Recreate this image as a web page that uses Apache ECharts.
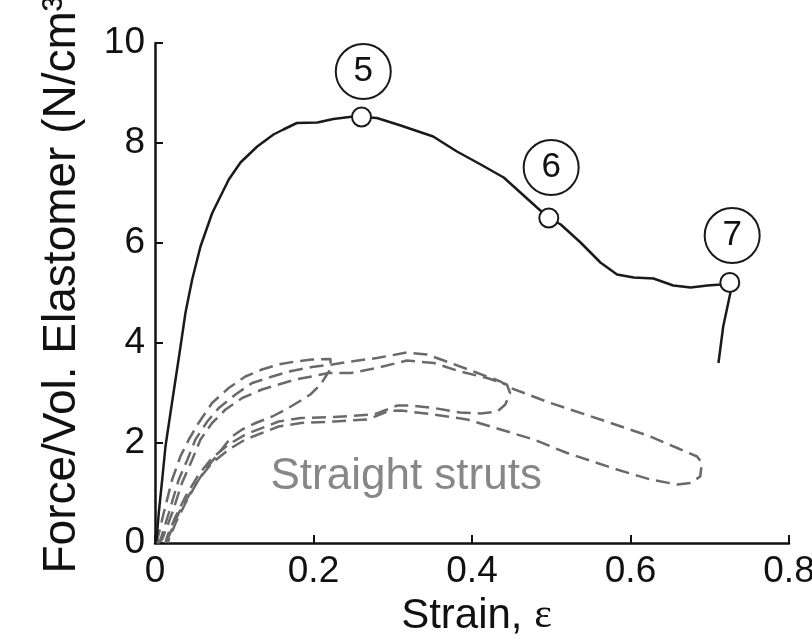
<!DOCTYPE html>
<html>
<head>
<meta charset="utf-8">
<script src="https://cdn.jsdelivr.net/npm/echarts@6/dist/echarts.min.js"></script>
<style>
html,body{margin:0;padding:0;background:#fff;}
#chart{width:812px;height:641px;}
</style>
</head>
<body>
<div id="chart"></div>
<script>
// ---- data (strain, force/vol) ----
var xTicks = ['0', '0.2', '0.4', '0.6', '0.8'];
var yTicks = ['0', '2', '4', '6', '8', '10'];

var mainCurve = [[0,0],[0.002,0.07],[0.0048,0.61],[0.0091,1.27],[0.0132,1.93],[0.0196,2.61],[0.0259,3.27],[0.0322,3.93],[0.0385,4.61],[0.0469,5.27],[0.0574,5.93],[0.0722,6.60],[0.0931,7.27],[0.1079,7.61],[0.129,7.93],[0.1495,8.17],[0.162,8.27],[0.179,8.40],[0.205,8.41],[0.225,8.48],[0.2505,8.53],[0.2606,8.52],[0.280,8.50],[0.310,8.35],[0.323,8.28],[0.351,8.13],[0.381,7.83],[0.411,7.57],[0.440,7.31],[0.461,7.01],[0.482,6.71],[0.497,6.50],[0.512,6.37],[0.537,6.01],[0.562,5.61],[0.583,5.37],[0.604,5.31],[0.629,5.29],[0.654,5.15],[0.676,5.11],[0.697,5.15],[0.714,5.17],[0.725,5.21],[0.726,5.0],[0.717,4.33],[0.711,3.60]];

var strutLoopShort = [[0.002,0],[0.003,0.07],[0.011,0.6],[0.0217,1.27],[0.032,1.73],[0.0427,2.07],[0.055,2.4],[0.072,2.8],[0.093,3.1],[0.114,3.33],[0.135,3.47],[0.156,3.57],[0.177,3.63],[0.198,3.67],[0.2215,3.68],[0.2215,3.48],[0.217,3.37],[0.209,3.17],[0.196,2.97],[0.184,2.85],[0.165,2.67],[0.148,2.53],[0.127,2.4],[0.11,2.27],[0.097,2.13],[0.0805,1.8],[0.0637,1.47],[0.047,1.07],[0.03,0.6],[0.0174,0.13],[0.013,0]];

var strutLoopMid = [[0.004,0],[0.009,0.07],[0.0217,0.6],[0.034,1.2],[0.047,1.67],[0.0574,2.07],[0.072,2.4],[0.089,2.67],[0.11,2.9],[0.135,3.07],[0.156,3.17],[0.177,3.27],[0.198,3.33],[0.219,3.4],[0.247,3.4],[0.28,3.5],[0.318,3.65],[0.352,3.6],[0.385,3.43],[0.419,3.3],[0.444,3.17],[0.448,3.0],[0.442,2.77],[0.432,2.63],[0.411,2.59],[0.385,2.61],[0.352,2.7],[0.322,2.75],[0.306,2.75],[0.293,2.67],[0.276,2.57],[0.226,2.52],[0.184,2.5],[0.156,2.43],[0.114,2.17],[0.093,1.97],[0.072,1.7],[0.055,1.37],[0.0385,0.93],[0.026,0.53],[0.0154,0.13],[0.013,0]];

var strutLoopLong = [[0.002,0],[0.007,0.07],[0.0174,0.6],[0.03,1.27],[0.041,1.67],[0.051,2.07],[0.066,2.43],[0.0805,2.7],[0.1016,2.97],[0.1226,3.2],[0.148,3.33],[0.169,3.43],[0.198,3.52],[0.2236,3.57],[0.247,3.63],[0.28,3.7],[0.318,3.81],[0.343,3.77],[0.373,3.6],[0.402,3.43],[0.436,3.23],[0.449,3.1],[0.499,2.8],[0.562,2.47],[0.625,2.13],[0.659,1.9],[0.684,1.73],[0.69,1.6],[0.688,1.33],[0.676,1.2],[0.659,1.17],[0.625,1.27],[0.583,1.47],[0.52,1.8],[0.478,2.07],[0.436,2.27],[0.394,2.47],[0.352,2.57],[0.31,2.65],[0.295,2.64],[0.268,2.47],[0.226,2.43],[0.184,2.4],[0.156,2.33],[0.114,2.07],[0.093,1.87],[0.072,1.6],[0.055,1.27],[0.0385,0.8],[0.026,0.4],[0.0174,0.07],[0.016,0]];

var stagePoints = [[0.2606,8.52],[0.4969,6.50],[0.7253,5.21]];
var stageLabelPoints = [[0.2628,9.43],[0.4999,7.51],[0.7283,6.15]];
var stageLabels = ['5', '6', '7'];
var annotation = {text: 'Straight struts', at: [0.317, 1.33]};

var FONT = '"Liberation Sans", Arial, Helvetica, sans-serif';
var strutStyle = {color: '#6a6a6a', width: 2.5, type: [14, 7]};

function strutSeries(data) {
  return {type: 'line', data: data, showSymbol: false, symbol: 'none', smooth: false,
          lineStyle: strutStyle, z: 2, silent: true};
}

var chart = echarts.init(document.getElementById('chart'), null, {renderer: 'canvas'});
chart.setOption({
  animation: false,
  backgroundColor: '#ffffff',
  grid: {left: 155, right: 23, top: 43, bottom: 98, containLabel: false, outerBoundsMode: 'none'},
  xAxis: {
    type: 'value', min: 0, max: 0.8, interval: 0.2,
    name: 'Strain, {e|ε}', nameLocation: 'middle', nameGap: 52,
    nameTextStyle: {fontSize: 42, fontFamily: FONT, color: '#111', padding: [0, 0, 0, 9],
      rich: {e: {fontSize: 42, fontFamily: '"Liberation Serif", "DejaVu Serif", serif', color: '#111'}}},
    axisLine: {show: true, lineStyle: {color: '#111', width: 2.5}},
    axisTick: {show: true, inside: true, length: 8, lineStyle: {color: '#111', width: 2}},
    splitLine: {show: false},
    axisLabel: {fontSize: 37, fontFamily: FONT, color: '#111', margin: 10,
      formatter: function (v) { return xTicks[Math.round(v / 0.2)]; }}
  },
  yAxis: {
    type: 'value', min: 0, max: 10, interval: 2,
    name: 'Force/Vol. Elastomer (N/cm³)', nameLocation: 'middle', nameGap: 70,
    nameTextStyle: {fontSize: 46, fontFamily: FONT, color: '#111', padding: [0, 0, 0, 32]},
    axisLine: {show: true, lineStyle: {color: '#111', width: 2.5}},
    axisTick: {show: true, inside: true, length: 8, lineStyle: {color: '#111', width: 2}},
    splitLine: {show: false},
    axisLabel: {fontSize: 37, fontFamily: FONT, color: '#111', margin: 10,
      formatter: function (v) { return yTicks[Math.round(v / 2)]; }}
  },
  series: [
    strutSeries(strutLoopShort),
    strutSeries(strutLoopMid),
    strutSeries(strutLoopLong),
    {type: 'line', data: mainCurve, showSymbol: false, symbol: 'none',
     lineStyle: {color: '#1a1a1a', width: 2.5}, z: 3, silent: true},
    {type: 'scatter', data: stagePoints, symbol: 'circle', symbolSize: 19, z: 4,
     itemStyle: {color: '#ffffff', borderColor: '#1a1a1a', borderWidth: 2, opacity: 1}, silent: true},
    {type: 'scatter', z: 5, symbol: 'circle', symbolSize: 55, silent: true,
     itemStyle: {color: '#ffffff', borderColor: '#1a1a1a', borderWidth: 2, opacity: 1},
     data: stageLabelPoints.map(function (p, i) { return {value: p, name: stageLabels[i]}; }),
     label: {show: true, position: 'inside', formatter: '{b}', fontSize: 35, fontFamily: FONT, color: '#111'}},
    {type: 'scatter', z: 6, symbolSize: 0, silent: true,
     data: [{value: annotation.at, name: annotation.text}],
     label: {show: true, position: 'inside', formatter: '{b}', fontSize: 44, fontFamily: FONT, color: '#696969'}}
  ]
});
</script>
</body>
</html>
